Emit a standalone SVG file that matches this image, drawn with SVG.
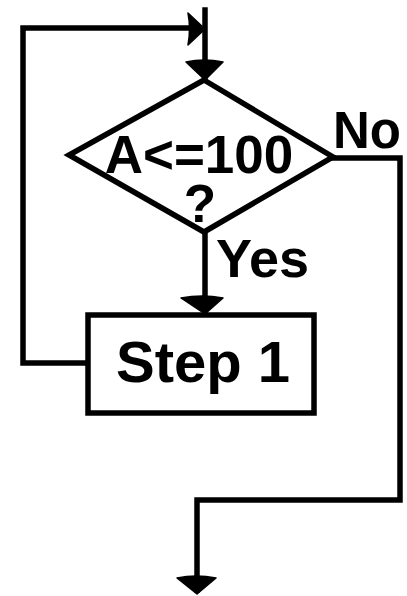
<svg xmlns="http://www.w3.org/2000/svg" width="407" height="596" viewBox="0 0 407 596">
<style>
.ln{fill:none;stroke:#000;stroke-width:5.5;stroke-linejoin:miter;stroke-linecap:square}
.ah{fill:#000;stroke:#000;stroke-width:1.5;stroke-linejoin:round}
.t{font-family:"Liberation Sans",Arial,sans-serif;font-weight:bold;fill:#000}
</style>
<rect width="407" height="596" fill="#fff"/>
<g id="connectors">
<path class="ln" d="M205,10 V78"/>
<path class="ah" d="M186,62 Q204,58 223,62 L205,80 Z"/>
<path class="ln" d="M87,363 H23 V28 H190"/>
<path class="ah" d="M188,13 Q191,28 188,45 L205,29 Z"/>
<path class="ln" d="M205,232 V310"/>
<path class="ah" d="M181,298 Q202,294 223,298 L205,314 Z"/>
<path class="ln" d="M333,158 H400 V500 H197 V590"/>
<path class="ah" d="M177,578 Q196,574 216,578 L197,594 Z"/>
<text class="t" x="333" y="148" font-size="51">No</text>
<text class="t" x="216" y="277" font-size="54">Yes</text>
</g>
<g id="decision">
<path class="ln" d="M204,80 L333,157 L204,232 L69,155 Z"/>
<text class="t" font-size="53" text-anchor="middle"><tspan x="199" y="173">A&lt;=100</tspan><tspan x="200" y="222">?</tspan></text>
</g>
<g id="step1">
<rect class="ln" x="88" y="315" width="226" height="98"/>
<text class="t" x="203" y="382" font-size="58" text-anchor="middle">Step 1</text>
</g>
</svg>
